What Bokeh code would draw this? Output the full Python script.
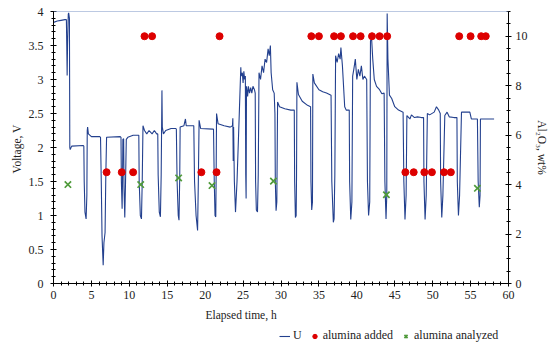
from bokeh.plotting import figure
from bokeh.layouts import column
from bokeh.models import (Range1d, LinearAxis, SingleIntervalTicker, Span, Legend,
                          LegendItem, Title, CustomJSTickFormatter)
from bokeh.embed import file_html
from bokeh.resources import INLINE

# ---- data ----
time_h = [0, 0.5, 1.0, 1.5, 1.7, 1.75, 1.8, 1.85, 1.95, 2.0, 2.1, 2.15, 2.2, 2.4, 3.9,
          4.0, 4.05, 4.15, 4.3, 4.4, 4.45, 4.5, 4.6, 5.0, 6.1,
          6.2, 6.3, 6.4, 6.55, 6.65, 6.8, 6.9, 7.0, 8.8,
          8.9, 8.95, 9.05, 9.1, 9.15, 9.25, 9.3, 9.4, 9.5, 9.6, 9.8, 10.5, 11.2,
          11.25, 11.3, 11.45, 11.6, 11.7, 11.8, 12.0, 12.3, 12.6, 13.0, 13.3, 13.6,
          13.75, 13.8, 13.95, 14.1, 14.2, 14.3, 14.35, 14.5, 14.8, 15.5, 16.1,
          16.2, 16.3, 16.45, 16.55, 16.65, 16.7, 17.2, 17.4, 17.5, 18.4,
          18.5, 18.6, 18.8, 19.0, 19.1, 19.2, 19.4, 21.0,
          21.1, 21.2, 21.3, 21.4, 21.45, 21.5, 21.7, 22.5, 23.3, 23.6,
          23.65, 23.7, 23.75, 23.85, 24.0, 24.2, 24.5, 24.7, 24.75, 24.9, 25.0, 25.1, 25.2, 25.3,
          25.35, 25.4, 25.45, 25.6, 25.7, 25.85, 26.0, 26.15, 26.3, 26.5,
          26.6, 26.65, 26.75, 26.9, 27.0, 27.1, 27.3, 27.5, 27.7, 27.9, 28.1, 28.3, 28.45, 28.6, 28.7, 28.9, 29.1,
          29.2, 29.25, 29.35, 29.45, 29.55, 29.8, 30.5, 31.3, 31.75,
          31.8, 31.9, 32.0, 32.05, 32.1, 32.3, 32.8, 33.5, 33.9,
          33.95, 34.05, 34.15, 34.2, 34.4, 35.0, 35.5, 36.0, 36.6,
          36.7, 36.9, 37.0, 37.1, 37.2, 37.4, 37.6, 37.8, 37.9, 38.1, 38.4, 38.6, 39.0,
          39.05, 39.2, 39.35, 39.45, 39.6, 39.8, 40.0, 40.2, 40.4, 40.6, 40.8, 41.0, 41.3,
          41.4, 41.55, 41.7, 41.8, 41.95, 42.1, 42.3, 42.6, 43.0, 43.3, 43.6,
          43.7, 43.85, 43.95, 44.0, 44.1, 44.3, 44.6, 45.0, 45.5, 46.1,
          46.2, 46.35, 46.5, 46.6, 47.0, 47.2, 47.6, 48.0, 48.5, 48.8,
          48.85, 49.0, 49.15, 49.3, 49.6, 50.2, 50.5, 50.8, 51.0,
          51.05, 51.2, 51.35, 51.6, 51.9, 52.2, 52.8, 53.2,
          53.25, 53.4, 53.55, 53.8, 54.5, 54.9, 55.1, 55.5, 55.9,
          56.0, 56.15, 56.25, 56.3, 57.0, 58.1]
voltage_V = [3.84, 3.86, 3.87, 3.88, 3.88, 3.5, 3.06, 3.5, 3.96, 3.98, 3.9, 2.0, 1.97, 2.02, 2.03,
             2.02, 1.5, 1.05, 0.95, 1.3, 2.25, 2.3, 2.2, 2.16, 2.16,
             2.15, 1.5, 0.7, 0.27, 0.6, 0.75, 1.6, 2.15, 2.16,
             2.15, 1.5, 1.1, 1.5, 2.12, 2.13, 1.4, 0.97, 1.5, 2.12, 2.15, 2.18, 2.18,
             2.18, 1.5, 1.0, 0.95, 1.5, 2.32, 2.25, 2.2, 2.25, 2.2, 2.25, 2.2,
             2.2, 1.6, 1.05, 0.98, 1.6, 2.84, 2.3, 2.2, 2.25, 2.28, 2.28,
             2.27, 1.5, 1.0, 0.93, 1.6, 2.3, 2.32, 2.42, 2.32, 2.32,
             2.32, 1.5, 1.0, 0.78, 1.5, 2.4, 2.28, 2.27,
             2.27, 1.5, 1.0, 0.98, 1.6, 2.5, 2.35, 2.32, 2.3, 2.32,
             2.43, 1.8, 2.3, 1.5, 1.05, 1.5, 2.5, 3.18, 3.05, 3.1, 2.95, 3.12, 3.0, 3.05,
             1.6, 1.25, 2.9, 2.75, 2.9, 2.8, 2.88, 2.8, 2.9, 2.85,
             2.8, 1.5, 1.08, 1.05, 1.6, 3.1, 3.0, 3.2, 3.1, 3.3, 3.25, 3.45, 3.35, 3.5, 3.1, 2.85, 2.8,
             2.5, 1.5, 1.07, 1.2, 2.67, 2.6, 2.57, 2.55, 2.55,
             1.5, 0.97, 1.0, 1.6, 2.96, 2.78, 2.68, 2.62, 2.6,
             1.5, 1.08, 1.2, 3.08, 2.95, 2.85, 2.82, 2.8, 2.77,
             1.5, 0.9, 0.95, 1.6, 3.35, 3.25, 3.38, 3.3, 3.47, 3.2, 2.6, 2.55, 2.55,
             1.5, 0.94, 1.2, 3.05, 3.15, 3.3, 3.0, 3.15, 3.05, 3.2, 3.0, 3.05, 3.0,
             1.5, 1.0, 1.2, 3.57, 3.6, 3.3, 3.0, 2.9, 2.85, 2.79, 2.8,
             1.5, 0.95, 1.3, 3.97, 3.3, 2.77, 2.72, 2.6, 2.55, 2.52,
             1.5, 0.94, 1.3, 2.47, 2.42, 2.48, 2.44, 2.45, 2.44, 2.44,
             1.5, 0.94, 1.3, 2.5, 2.48, 2.52, 2.6, 2.55, 2.5,
             1.5, 0.97, 1.3, 2.47, 2.52, 2.45, 2.44, 2.44,
             1.5, 1.0, 1.3, 2.52, 2.52, 2.52, 2.42, 2.42, 2.42,
             1.5, 1.12, 1.3, 2.42, 2.42, 2.42]

added_t = [7.0, 9.0, 10.5, 12.0, 13.0, 19.5, 21.5, 21.9, 34.0, 35.0, 37.0, 37.9, 39.5, 40.5,
           42.0, 43.0, 44.0, 46.4, 47.5, 48.9, 49.9, 51.5, 52.4, 53.5, 55.0, 56.4, 57.0]
added_wt = [4.5, 4.5, 4.5, 10, 10, 4.5, 4.5, 10, 10, 10, 10, 10, 10, 10,
            10, 10, 10, 4.5, 4.5, 4.5, 4.5, 4.5, 4.5, 10, 10, 10, 10]

analyzed_t = [1.9, 11.5, 16.5, 20.9, 29.0, 43.9, 55.9]
analyzed_wt = [4.0, 4.0, 4.27, 3.96, 4.14, 3.59, 3.85]

legend_labels = ["U", "alumina added", "alumina analyzed"]

FONT = "Liberation Serif"
LINE_C = "#23408e"
RED = "#dd0000"
GREEN = "#4f9a3a"
TXT_C = "#222222"

p = figure(width=550, height=329, output_backend="svg", toolbar_location=None,
           x_range=Range1d(0, 60), y_range=Range1d(0, 4),
           min_border_left=53, min_border_right=42, min_border_top=11, min_border_bottom=46)
p.extra_y_ranges = {"al": Range1d(0, 11)}
p.outline_line_color = None
p.xgrid.visible = False
p.ygrid.visible = False

# top border line
p.add_layout(Span(location=4, dimension="width", line_color="#7b93c6", line_width=1.2))

def style_axis(ax):
    ax.axis_line_color = "black"
    ax.major_tick_line_color = "black"
    ax.minor_tick_line_color = "black"
    ax.major_tick_in = 3
    ax.major_tick_out = 3
    ax.minor_tick_in = 2
    ax.minor_tick_out = 2
    ax.major_label_text_font = FONT
    ax.major_label_text_font_size = "12px"
    ax.major_label_text_color = TXT_C
    ax.axis_label_text_font = FONT
    ax.axis_label_text_font_size = "11.5px"
    ax.axis_label_text_font_style = "normal"
    ax.axis_label_text_color = TXT_C

xa = p.xaxis[0]
xa.ticker = SingleIntervalTicker(interval=5, num_minor_ticks=5)
style_axis(xa)
xa.major_label_standoff = 4

ya = p.yaxis[0]
ya.ticker = SingleIntervalTicker(interval=0.5, num_minor_ticks=5)
ya.formatter = CustomJSTickFormatter(code="return String(Number(tick.toFixed(2)));")
style_axis(ya)
ya.axis_label = "Voltage,  V"
ya.major_label_standoff = 7
ya.axis_label_standoff = 3

ra = LinearAxis(y_range_name="al", ticker=SingleIntervalTicker(interval=2, num_minor_ticks=4))
style_axis(ra)
ra.axis_label = "Al\u2082O\u2083, wt%"
ra.major_label_standoff = 4
ra.axis_label_standoff = 5
p.add_layout(ra, "right")

p.line(time_h, voltage_V, line_color=LINE_C, line_width=1.1)
p.scatter(added_t, added_wt, y_range_name="al", marker="circle", size=7,
          fill_color=RED, line_color=RED)
p.scatter(analyzed_t, analyzed_wt, y_range_name="al", marker="x", size=9,
          line_color=GREEN, line_width=1.7)

p.add_layout(Title(text="Elapsed time, h", align="left", offset=152, standoff=10,
                   text_font=FONT, text_font_size="11.5px", text_font_style="normal",
                   text_color=TXT_C), "below")

# legend strip below the chart (same series; its ranges keep the marks out of view)
lf = figure(width=550, height=16, output_backend="svg", toolbar_location=None,
            x_range=Range1d(-20, -10), y_range=Range1d(-20, -10),
            x_axis_location=None, y_axis_location=None,
            min_border_left=53, min_border_right=42, min_border_top=0, min_border_bottom=0)
lf.outline_line_color = None
lf.xgrid.visible = False
lf.ygrid.visible = False
lr = lf.line(time_h, voltage_V, line_color=LINE_C, line_width=1.1)
ar = lf.scatter(added_t, added_wt, marker="circle", size=7, fill_color=RED, line_color=RED)
xr = lf.scatter(analyzed_t, analyzed_wt, marker="x", size=9, line_color=GREEN, line_width=1.7)

legend = Legend(items=[LegendItem(label=legend_labels[0], renderers=[lr]),
                       LegendItem(label=legend_labels[1], renderers=[ar]),
                       LegendItem(label=legend_labels[2], renderers=[xr])],
                location=(226, 2), orientation="horizontal",
                glyph_width=11, glyph_height=12, label_height=12, label_width=8,
                label_standoff=3, spacing=7, padding=0, margin=0,
                label_text_font=FONT, label_text_font_size="12px", label_text_color=TXT_C,
                background_fill_alpha=0, border_line_color=None)
lf.add_layout(legend)

layout = column(p, lf, spacing=0)
open("out.html", "w").write(file_html(layout, INLINE))
